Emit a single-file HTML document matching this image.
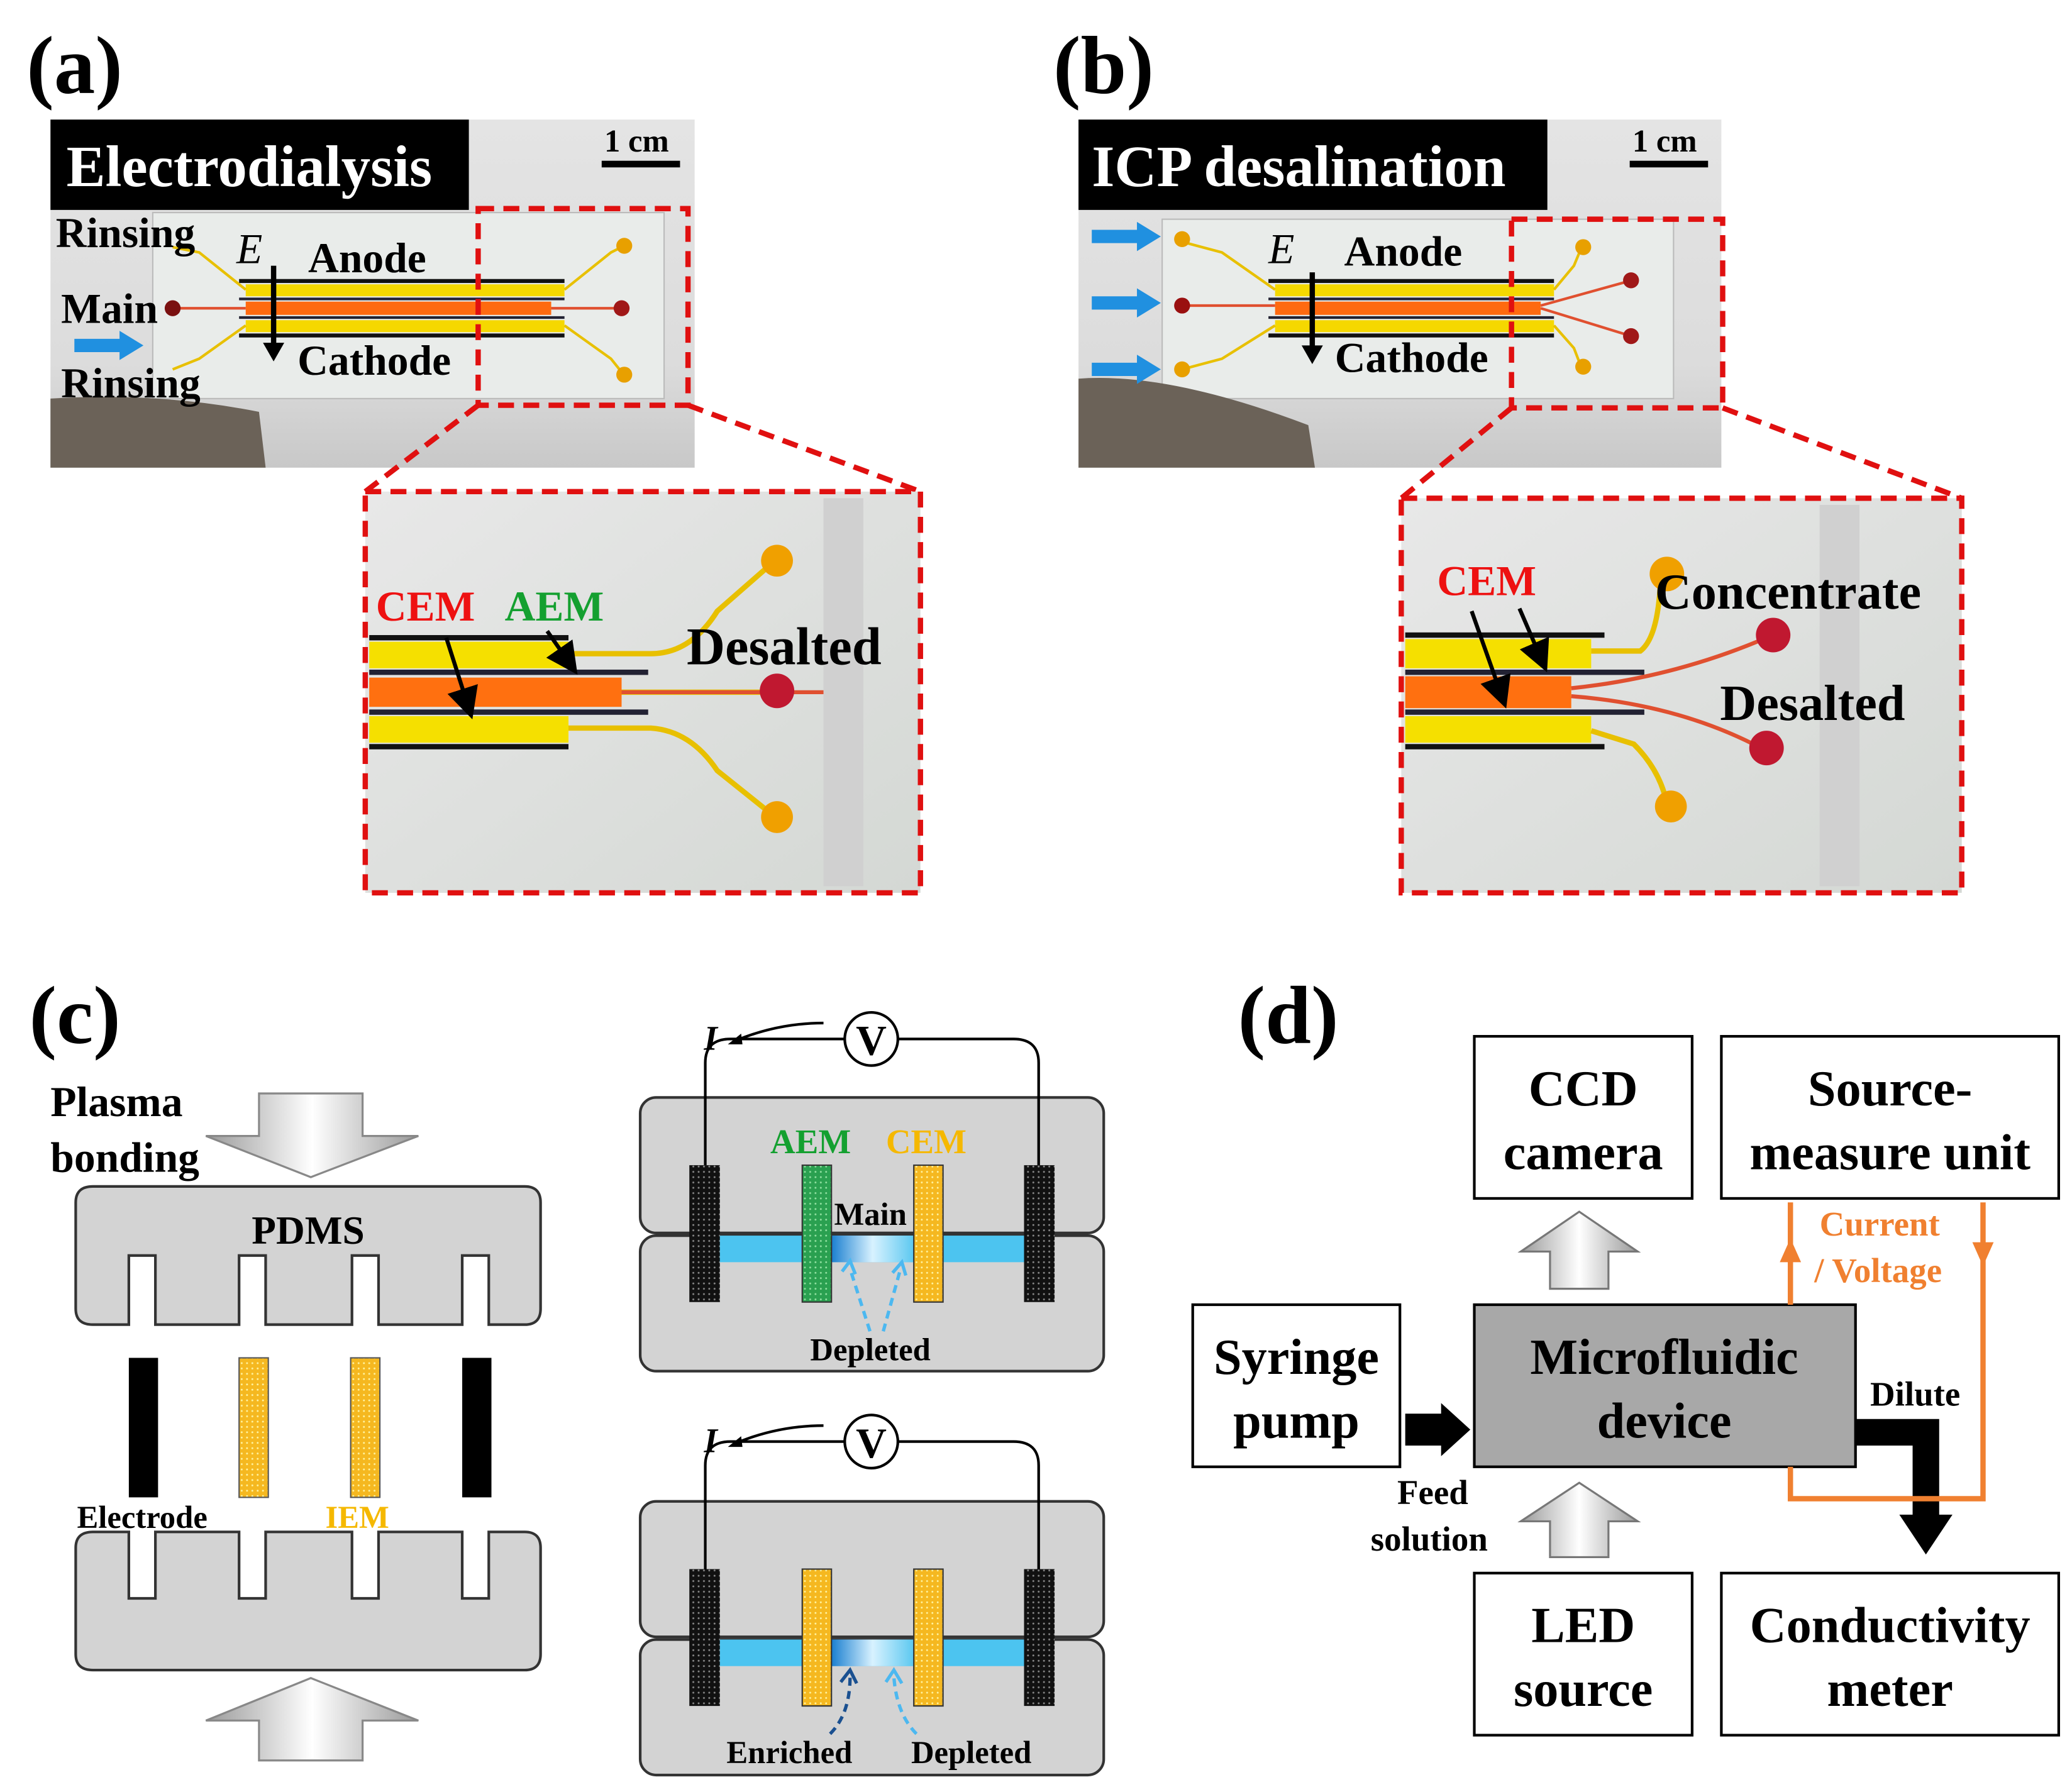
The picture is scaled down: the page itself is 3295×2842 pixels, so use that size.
<!DOCTYPE html>
<html><head><meta charset="utf-8"><style>html,body{margin:0;padding:0;background:#fff}svg{display:block}svg text{font-family:"Liberation Serif",serif;font-weight:bold}</style></head>
<body>
<svg width="3295" height="2842" viewBox="0 0 1560 1345" preserveAspectRatio="none" xmlns="http://www.w3.org/2000/svg">
<defs>
<linearGradient id="ph" x1="0" y1="0" x2="0" y2="1"><stop offset="0" stop-color="#e4e4e4"/><stop offset="0.7" stop-color="#dcdcdc"/><stop offset="1" stop-color="#c8c8c8"/></linearGradient>
<linearGradient id="zm" x1="0" y1="0" x2="1" y2="1"><stop offset="0" stop-color="#e8e8e8"/><stop offset="1" stop-color="#d4d8d4"/></linearGradient>
<linearGradient id="ga" x1="0" y1="0" x2="1" y2="0"><stop offset="0" stop-color="#999"/><stop offset="0.5" stop-color="#fff"/><stop offset="1" stop-color="#999"/></linearGradient>
<pattern id="dots" width="4" height="4" patternUnits="userSpaceOnUse"><rect width="4" height="4" fill="#111"/><circle cx="2" cy="2" r="0.7" fill="#888"/></pattern>
<pattern id="ydots" width="4" height="4" patternUnits="userSpaceOnUse"><rect width="4" height="4" fill="#f5b820"/><circle cx="2" cy="2" r="0.7" fill="#fff3a0"/></pattern>
<pattern id="gdots" width="4" height="4" patternUnits="userSpaceOnUse"><rect width="4" height="4" fill="#2aa050"/><circle cx="2" cy="2" r="0.7" fill="#90e0a0"/></pattern>
<linearGradient id="dep" x1="0" y1="0" x2="1" y2="0"><stop offset="0" stop-color="#1a7fd0"/><stop offset="0.5" stop-color="#d8f2ff"/><stop offset="1" stop-color="#5cc8f0"/></linearGradient>
<marker id="ah" markerWidth="8" markerHeight="8" refX="4" refY="4" orient="auto"><path d="M0,0 L8,4 L0,8 z" fill="#000"/></marker>
</defs>

<!-- (a) -->
<text x="20" y="70" font-size="62">(a)</text>
<rect x="38" y="90" width="485" height="262" fill="url(#ph)"/>
<rect x="115" y="160" width="385" height="140" fill="#e9ecea" stroke="#bbb"/>
<path d="M38,300 Q120,295 195,310 L200,352 L38,352 z" fill="#6b6258"/>
<rect x="38" y="90" width="315" height="68" fill="#000"/>
<text x="50" y="140" font-size="44" fill="#fff">Electrodialysis</text>
<text x="455" y="114" font-size="24">1 cm</text><rect x="453" y="121" width="59" height="5" fill="#000"/>
<g>
<rect x="180" y="210" width="245" height="3" fill="#111"/>
<rect x="185" y="214" width="240" height="9" fill="#f5d800"/>
<rect x="180" y="224" width="245" height="2" fill="#223"/>
<rect x="185" y="227" width="230" height="10" fill="#ff6a10"/>
<rect x="180" y="238" width="245" height="2" fill="#223"/>
<rect x="185" y="241" width="240" height="9" fill="#f5d800"/>
<rect x="180" y="251" width="245" height="3" fill="#111"/>
<path d="M185,218 L150,190 L130,186 M185,245 L150,270 L130,278 M425,218 L460,190 L468,186 M425,245 L460,270 L468,280" stroke="#e8c000" stroke-width="2" fill="none"/>
<path d="M130,232 H185 M415,232 H468" stroke="#e05030" stroke-width="2"/>
<circle cx="130" cy="232" r="6" fill="#7a1010"/><circle cx="468" cy="232" r="6" fill="#a01818"/>
<circle cx="470" cy="185" r="6" fill="#e8a000"/><circle cx="470" cy="282" r="6" fill="#e8a000"/>
<line x1="206" y1="200" x2="206" y2="260" stroke="#000" stroke-width="4"/><path d="M198,258 L206,272 L214,258 z"/>
</g>
<text x="42" y="186" font-size="32">Rinsing</text>
<text x="46" y="243" font-size="32">Main</text>
<text x="46" y="299" font-size="32">Rinsing</text>
<text x="178" y="198" font-size="32" font-style="italic" style="font-weight:normal">E</text>
<text x="232" y="205" font-size="32">Anode</text>
<text x="224" y="282" font-size="32">Cathode</text>
<path d="M56,260 H92" stroke="#2090e0" stroke-width="10"/><path d="M90,249 L108,260 L90,271 z" fill="#2090e0"/>
<rect x="360" y="157" width="158" height="148" fill="none" stroke="#e01010" stroke-width="4" stroke-dasharray="12,7"/>
<path d="M360,305 L275,370 M518,305 L693,370" stroke="#e01010" stroke-width="4" stroke-dasharray="12,7"/>
<rect x="275" y="370" width="418" height="302" fill="url(#zm)"/>
<rect x="620" y="375" width="30" height="292" fill="#d0d0d0"/>
<g>
<rect x="278" y="478" width="150" height="4" fill="#111"/>
<rect x="278" y="483" width="150" height="20" fill="#f5e000"/>
<rect x="278" y="504" width="210" height="4" fill="#223"/>
<rect x="278" y="510" width="190" height="22" fill="#ff7010"/>
<rect x="278" y="534" width="210" height="4" fill="#223"/>
<rect x="278" y="539" width="150" height="20" fill="#f5e000"/>
<rect x="278" y="560" width="150" height="4" fill="#111"/>
<path d="M428,492 L490,492 Q520,492 540,460 L580,425 M428,548 L490,548 Q520,550 540,580 L580,612 M468,521 L585,521" stroke="#e8c000" stroke-width="4" fill="none"/>
<path d="M468,521 L620,521" stroke="#e05030" stroke-width="3"/>
<circle cx="585" cy="422" r="12" fill="#f0a000"/><circle cx="585" cy="520" r="13" fill="#c01830"/><circle cx="585" cy="615" r="12" fill="#f0a000"/>
<line x1="336" y1="480" x2="352" y2="530" stroke="#000" stroke-width="3" marker-end="url(#ah)"/>
<line x1="412" y1="475" x2="428" y2="498" stroke="#000" stroke-width="3" marker-end="url(#ah)"/>
</g>
<text x="283" y="467" font-size="32" fill="#ee1111">CEM</text>
<text x="380" y="467" font-size="32" fill="#14a030">AEM</text>
<text x="517" y="500" font-size="40">Desalted</text>
<rect x="275" y="370" width="418" height="302" fill="none" stroke="#e01010" stroke-width="4" stroke-dasharray="12,7"/>

<!-- (b) -->
<text x="793" y="70" font-size="62">(b)</text>
<rect x="812" y="90" width="484" height="262" fill="url(#ph)"/>
<rect x="875" y="165" width="385" height="135" fill="#e9ecea" stroke="#bbb"/>
<path d="M812,285 Q880,280 985,320 L990,352 L812,352 z" fill="#6b6258"/>
<rect x="812" y="90" width="353" height="68" fill="#000"/>
<text x="822" y="140" font-size="44" fill="#fff">ICP desalination</text>
<text x="1229" y="114" font-size="24">1 cm</text><rect x="1227" y="121" width="59" height="5" fill="#000"/>
<g>
<rect x="955" y="210" width="215" height="3" fill="#111"/>
<rect x="960" y="214" width="210" height="9" fill="#f5d800"/>
<rect x="955" y="224" width="215" height="2" fill="#223"/>
<rect x="960" y="227" width="200" height="10" fill="#ff6a10"/>
<rect x="955" y="238" width="215" height="2" fill="#223"/>
<rect x="960" y="241" width="210" height="9" fill="#f5d800"/>
<rect x="955" y="251" width="215" height="3" fill="#111"/>
<path d="M960,218 L920,190 L890,182 M960,245 L920,270 L890,278 M1170,218 L1185,200 L1190,188 M1170,245 L1185,262 L1190,275" stroke="#e8c000" stroke-width="2" fill="none"/>
<path d="M890,230 H960 M1160,230 L1225,212 M1160,232 L1225,252" stroke="#e05030" stroke-width="2" fill="none"/>
<circle cx="890" cy="230" r="6" fill="#9a1010"/><circle cx="890" cy="180" r="6" fill="#e8a000"/><circle cx="890" cy="278" r="6" fill="#e8a000"/>
<circle cx="1192" cy="186" r="6" fill="#e8a000"/><circle cx="1192" cy="276" r="6" fill="#e8a000"/><circle cx="1228" cy="211" r="6" fill="#a01818"/><circle cx="1228" cy="253" r="6" fill="#a01818"/>
<line x1="988" y1="205" x2="988" y2="262" stroke="#000" stroke-width="4"/><path d="M980,260 L988,274 L996,260 z"/>
</g>
<g fill="#2090e0"><path d="M822,178 H858" stroke="#2090e0" stroke-width="10"/><path d="M856,167 L874,178 L856,189 z"/>
<path d="M822,228 H858" stroke="#2090e0" stroke-width="10"/><path d="M856,217 L874,228 L856,239 z"/>
<path d="M822,278 H858" stroke="#2090e0" stroke-width="10"/><path d="M856,267 L874,278 L856,289 z"/></g>
<text x="955" y="198" font-size="32" font-style="italic" style="font-weight:normal">E</text>
<text x="1012" y="200" font-size="32">Anode</text>
<text x="1005" y="280" font-size="32">Cathode</text>
<rect x="1138" y="165" width="159" height="142" fill="none" stroke="#e01010" stroke-width="4" stroke-dasharray="12,7"/>
<path d="M1138,307 L1055,375 M1297,307 L1477,375" stroke="#e01010" stroke-width="4" stroke-dasharray="12,7"/>
<rect x="1055" y="375" width="422" height="297" fill="url(#zm)"/>
<rect x="1370" y="380" width="30" height="287" fill="#d0d0d0"/>
<g>
<rect x="1058" y="476" width="150" height="4" fill="#111"/>
<rect x="1058" y="481" width="140" height="22" fill="#f5e000"/>
<rect x="1058" y="504" width="180" height="4" fill="#223"/>
<rect x="1058" y="509" width="125" height="24" fill="#ff7010"/>
<rect x="1058" y="534" width="180" height="4" fill="#223"/>
<rect x="1058" y="539" width="140" height="20" fill="#f5e000"/>
<rect x="1058" y="560" width="150" height="4" fill="#111"/>
<path d="M1198,490 L1235,490 Q1248,480 1250,440 M1198,550 L1230,560 Q1250,580 1255,605" stroke="#e8c000" stroke-width="4" fill="none"/>
<path d="M1183,518 Q1260,510 1330,480 M1183,524 Q1260,530 1320,560" stroke="#e05030" stroke-width="3" fill="none"/>
<circle cx="1255" cy="432" r="13" fill="#f0a000"/><circle cx="1335" cy="478" r="13" fill="#c01830"/><circle cx="1330" cy="563" r="13" fill="#c01830"/><circle cx="1258" cy="607" r="12" fill="#f0a000"/>
<line x1="1108" y1="460" x2="1130" y2="522" stroke="#000" stroke-width="3" marker-end="url(#ah)"/>
<line x1="1144" y1="458" x2="1160" y2="495" stroke="#000" stroke-width="3" marker-end="url(#ah)"/>
</g>
<text x="1082" y="448" font-size="32" fill="#ee1111">CEM</text>
<text x="1246" y="458" font-size="38">Concentrate</text>
<text x="1295" y="542" font-size="38">Desalted</text>
<rect x="1055" y="375" width="422" height="297" fill="none" stroke="#e01010" stroke-width="4" stroke-dasharray="12,7"/>

<!-- (c) -->
<text x="22" y="785" font-size="62">(c)</text>
<text x="38" y="840" font-size="32">Plasma</text>
<text x="38" y="882" font-size="32">bonding</text>
<path d="M195,823 H273 V855 H315 L234,886 L155,855 H195 z" fill="url(#ga)" stroke="#888" stroke-width="1.5"/>
<path d="M70,893 H395 Q407,893 407,905 V985 Q407,997 395,997 H368 V945 H348 V997 H285 V945 H265 V997 H200 V945 H180 V997 H117 V945 H97 V997 H70 Q57,997 57,985 V905 Q57,893 70,893 z" fill="#d3d3d3" stroke="#333" stroke-width="2"/>
<text x="232" y="936" font-size="30" text-anchor="middle">PDMS</text>
<rect x="97" y="1022" width="22" height="105" fill="#000"/>
<rect x="348" y="1022" width="22" height="105" fill="#000"/>
<rect x="180" y="1022" width="22" height="105" fill="url(#ydots)" stroke="#555"/>
<rect x="264" y="1022" width="22" height="105" fill="url(#ydots)" stroke="#555"/>
<text x="58" y="1150" font-size="24">Electrode</text>
<text x="245" y="1150" font-size="24" fill="#f5b800">IEM</text>
<path d="M70,1153 H97 V1203 H117 V1153 H180 V1203 H200 V1153 H265 V1203 H285 V1153 H348 V1203 H368 V1153 H395 Q407,1153 407,1165 V1245 Q407,1257 395,1257 H70 Q57,1257 57,1245 V1165 Q57,1153 70,1153 z" fill="#d3d3d3" stroke="#333" stroke-width="2"/>
<path d="M195,1325 H273 V1295 H315 L234,1263 L155,1295 H195 z" fill="url(#ga)" stroke="#888" stroke-width="1.5"/>

<!-- right schematic top -->
<rect x="482" y="826" width="349" height="102" rx="12" fill="#d3d3d3" stroke="#333" stroke-width="2"/>
<rect x="482" y="930" width="349" height="102" rx="12" fill="#d3d3d3" stroke="#333" stroke-width="2"/>
<rect x="540" y="930" width="235" height="20" fill="#4cc4f0"/>
<rect x="626" y="930" width="62" height="20" fill="url(#dep)"/>
<rect x="519" y="877" width="23" height="103" fill="url(#dots)"/>
<rect x="771" y="877" width="23" height="103" fill="url(#dots)"/>
<rect x="604" y="877" width="22" height="103" fill="url(#gdots)" stroke="#333"/>
<rect x="688" y="877" width="22" height="103" fill="url(#ydots)" stroke="#333"/>
<text x="580" y="868" font-size="26" fill="#14a030">AEM</text>
<text x="667" y="868" font-size="26" fill="#f5b800">CEM</text>
<text x="628" y="922" font-size="24">Main</text>
<text x="610" y="1024" font-size="24">Depleted</text>
<path d="M655,1002 L640,955 M665,1002 L678,955" stroke="#4cb8f0" stroke-width="2.5" stroke-dasharray="6,4" fill="none"/>
<path d="M634,957 l6,-8 l4,10 M672,958 l7,-8 l3,10" stroke="#4cb8f0" stroke-width="2.5" fill="none"/>
<path d="M531,877 V800 Q531,782 550,782 H636 M676,782 H763 Q782,782 782,800 V877" stroke="#000" stroke-width="2" fill="none"/>
<circle cx="656" cy="782" r="20" fill="#fff" stroke="#000" stroke-width="2"/>
<text x="656" y="794" font-size="32" text-anchor="middle">V</text>
<text x="530" y="790" font-size="26" font-style="italic">I</text>
<path d="M620,770 Q585,770 552,784" stroke="#000" stroke-width="2" fill="none"/><path d="M548,786 l10,-8 l1,8 z"/>

<!-- right schematic bottom -->
<rect x="482" y="1130" width="349" height="102" rx="12" fill="#d3d3d3" stroke="#333" stroke-width="2"/>
<rect x="482" y="1234" width="349" height="102" rx="12" fill="#d3d3d3" stroke="#333" stroke-width="2"/>
<rect x="540" y="1234" width="235" height="20" fill="#4cc4f0"/>
<rect x="626" y="1234" width="62" height="20" fill="url(#dep)"/>
<rect x="519" y="1181" width="23" height="103" fill="url(#dots)"/>
<rect x="771" y="1181" width="23" height="103" fill="url(#dots)"/>
<rect x="604" y="1181" width="22" height="103" fill="url(#ydots)" stroke="#333"/>
<rect x="688" y="1181" width="22" height="103" fill="url(#ydots)" stroke="#333"/>
<text x="547" y="1327" font-size="24">Enriched</text>
<text x="686" y="1327" font-size="24">Depleted</text>
<path d="M625,1305 Q640,1290 640,1262" stroke="#1a5090" stroke-width="2.5" stroke-dasharray="6,4" fill="none"/>
<path d="M690,1305 Q675,1290 673,1262" stroke="#4cb8f0" stroke-width="2.5" stroke-dasharray="6,4" fill="none"/>
<path d="M633,1266 l7,-9 l5,10" stroke="#1a5090" stroke-width="2.5" fill="none"/>
<path d="M667,1266 l6,-9 l6,10" stroke="#4cb8f0" stroke-width="2.5" fill="none"/>
<path d="M531,1181 V1103 Q531,1085 550,1085 H636 M676,1085 H763 Q782,1085 782,1103 V1181" stroke="#000" stroke-width="2" fill="none"/>
<circle cx="656" cy="1085" r="20" fill="#fff" stroke="#000" stroke-width="2"/>
<text x="656" y="1097" font-size="32" text-anchor="middle">V</text>
<text x="530" y="1093" font-size="26" font-style="italic">I</text>
<path d="M620,1073 Q585,1073 552,1087" stroke="#000" stroke-width="2" fill="none"/><path d="M548,1089 l10,-8 l1,8 z"/>

<!-- (d) -->
<text x="932" y="785" font-size="62">(d)</text>
<g stroke="#000" stroke-width="2" fill="#fff">
<rect x="1110" y="780" width="164" height="122"/>
<rect x="1296" y="780" width="254" height="122"/>
<rect x="898" y="982" width="156" height="122"/>
<rect x="1110" y="982" width="287" height="122" fill="#a8a8a8"/>
<rect x="1110" y="1184" width="164" height="122"/>
<rect x="1296" y="1184" width="254" height="122"/>
</g>
<g font-size="38" text-anchor="middle">
<text x="1192" y="832">CCD</text><text x="1192" y="880">camera</text>
<text x="1423" y="832">Source-</text><text x="1423" y="880">measure unit</text>
<text x="976" y="1034">Syringe</text><text x="976" y="1082">pump</text>
<text x="1253" y="1034">Microfluidic</text><text x="1253" y="1082">device</text>
<text x="1192" y="1236">LED</text><text x="1192" y="1284">source</text>
<text x="1423" y="1236">Conductivity</text><text x="1423" y="1284">meter</text>
</g>
<path d="M1167,970 V942 H1145 L1189,912 L1233,942 H1211 V970 z" fill="url(#ga)" stroke="#777" stroke-width="1.5"/>
<path d="M1167,1172 V1145 H1145 L1189,1116 L1233,1145 H1211 V1172 z" fill="url(#ga)" stroke="#777" stroke-width="1.5"/>
<path d="M1058,1064 H1085 V1056 L1107,1076 L1085,1096 V1088 H1058 z" fill="#000"/>
<path d="M1397,1068 H1460 V1140 H1470 L1450,1170 L1430,1140 H1440 V1088 H1397 z" fill="#000"/>
<g stroke="#f08030" stroke-width="4" fill="none">
<path d="M1348,982 V905"/>
<path d="M1493,905 V1128 H1348 V1104"/>
</g>
<path d="M1340,950 L1348,932 L1356,950 z" fill="#f08030"/>
<path d="M1485,935 L1493,953 L1501,935 z" fill="#f08030"/>
<text x="1370" y="930" font-size="26" fill="#f08030">Current</text>
<text x="1366" y="965" font-size="26" fill="#f08030">/ Voltage</text>
<text x="1408" y="1058" font-size="26">Dilute</text>
<text x="1052" y="1132" font-size="26">Feed</text>
<text x="1032" y="1167" font-size="26">solution</text>
</svg>
</body></html>
